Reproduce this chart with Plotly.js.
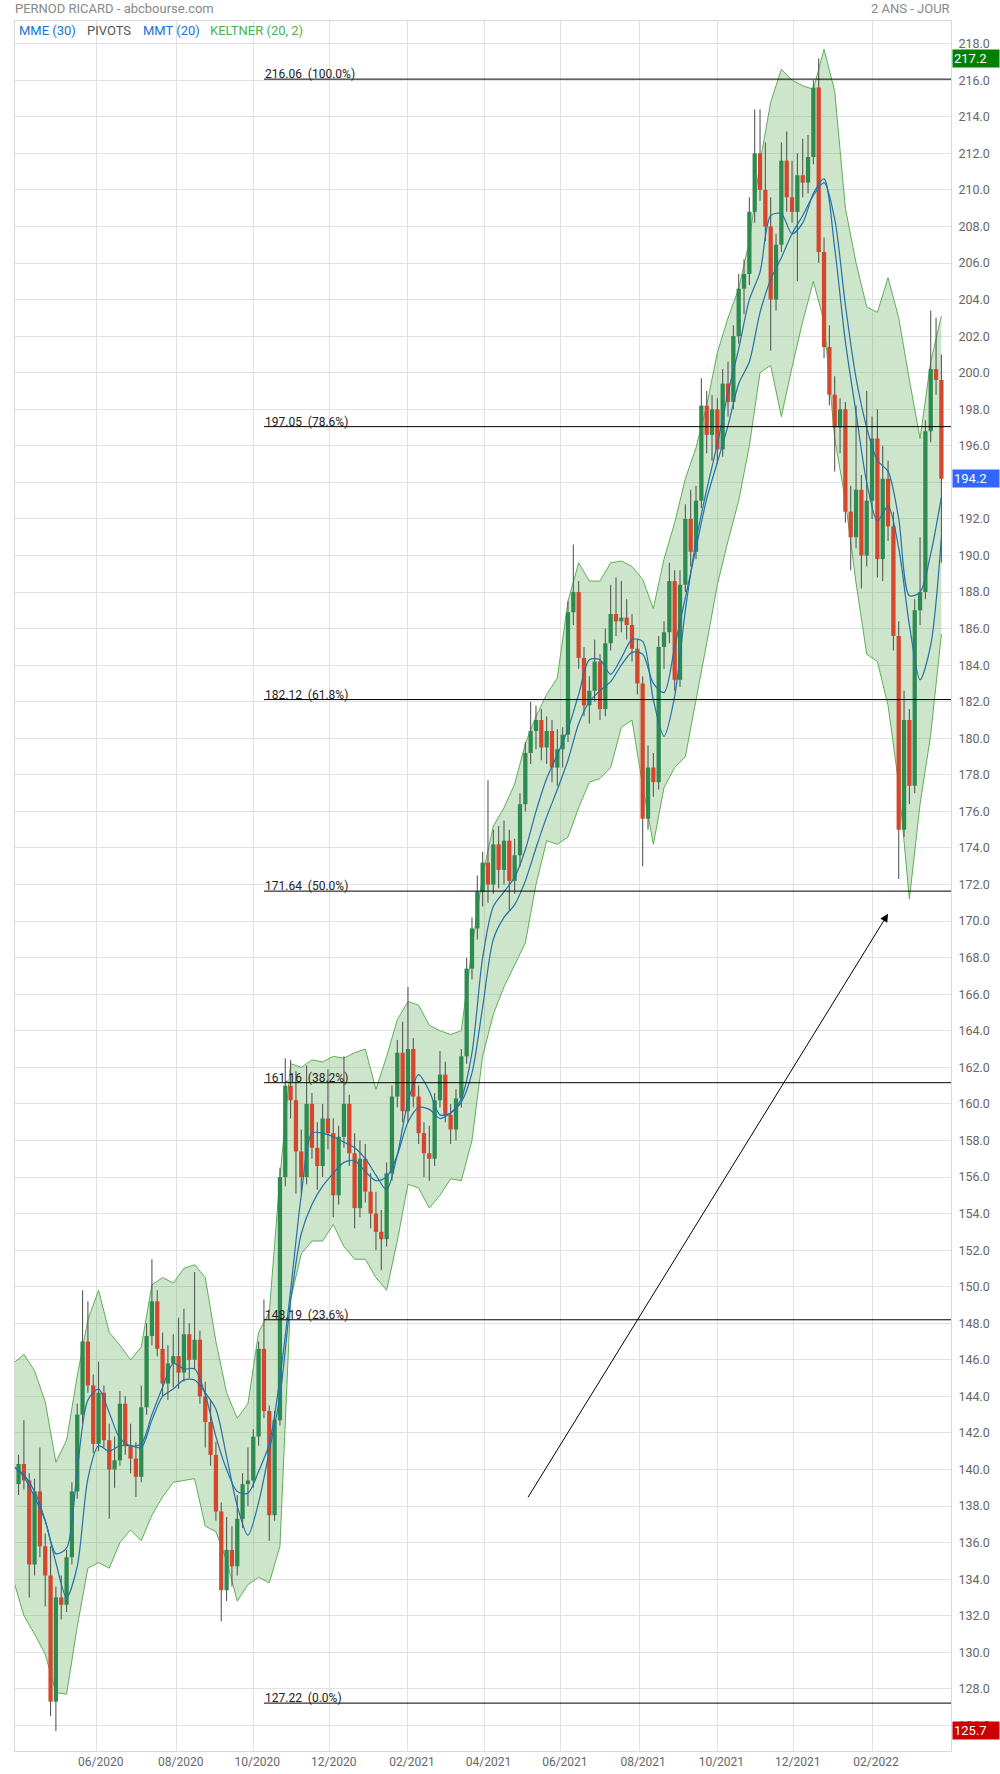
<!DOCTYPE html>
<html><head><meta charset="utf-8">
<script src="https://cdn.plot.ly/plotly-3.0.1.min.js"></script>
<style>html,body{margin:0;padding:0;background:#fff;} #chart{width:1000px;height:1774px;}</style>
</head><body><div id="chart"></div>
<script>
const openP = [
139.2,140.3,139.4,134.8,138.8,135.8,134.2,127.3,133.0,132.6,
135.2,138.8,143.0,147.0,144.6,141.4,144.2,141.6,140.0,140.5,
143.6,141.3,140.6,139.6,143.4,147.3,149.2,146.6,144.7,145.8,
146.2,145.3,147.4,146.0,147.1,144.0,142.6,140.8,137.7,133.4,
135.6,134.7,137.3,139.2,139.4,141.8,146.6,143.2,137.5,142.7,
156.0,161.0,160.2,157.4,156.0,160.0,157.6,156.6,159.2,158.4,
155.0,158.2,160.0,157.3,154.3,157.0,155.2,154.0,153.0,152.6,
156.2,160.4,162.8,159.6,163.0,160.4,158.4,157.3,157.0,160.2,
161.6,159.4,158.6,160.3,162.6,167.4,169.6,171.6,173.2,172.0,
174.2,172.8,174.4,172.2,173.6,176.4,179.2,180.4,181.0,179.5,
180.4,178.4,179.4,180.2,186.9,188.0,184.4,181.8,182.6,184.2,
181.6,185.2,186.8,186.4,186.6,186.2,184.9,183.0,175.6,178.4,
177.6,185.0,185.8,188.6,183.2,188.4,192.0,190.2,193.0,198.2,
196.6,198.0,195.8,199.4,198.4,202.0,204.6,205.4,208.8,212.0,
210.0,208.0,204.0,207.0,211.6,209.6,208.8,210.8,210.4,211.8,
215.6,206.6,201.4,198.8,197.0,198.0,192.4,191.0,193.6,190.0,
193.0,196.4,189.8,194.2,191.6,185.6,175.0,181.0,177.4,187.0,
188.0,196.8,200.2,199.6];
const highP = [
140.8,142.7,139.8,139.5,141.2,136.5,135.8,133.6,134.2,135.6,
139.3,143.6,149.8,149.2,145.2,145.9,144.6,142.5,141.8,144.3,
144.0,142.5,141.5,144.6,148.0,151.5,149.8,147.5,146.8,147.4,
148.3,148.8,148.0,150.8,147.6,144.8,143.8,141.5,138.2,137.4,
136.9,138.6,139.8,141.2,142.2,147.0,149.3,143.5,143.2,156.5,
162.5,162.4,161.8,158.6,162.1,160.6,159.0,160.0,161.9,159.2,
158.8,162.6,160.5,158.4,158.0,157.8,156.2,155.2,154.2,156.8,
161.0,163.5,164.5,166.4,163.6,161.0,159.0,158.8,160.6,162.9,
162.3,160.0,160.8,163.0,168.0,170.2,172.5,173.8,177.7,175.0,
175.2,175.5,175.0,174.5,177.0,179.8,182.0,181.8,181.6,181.2,
181.0,180.5,180.6,187.5,190.6,188.6,185.0,183.4,185.4,184.6,
186.0,188.4,188.8,188.6,187.6,186.8,185.4,183.4,179.6,179.2,
185.6,186.4,189.6,189.2,189.2,192.8,193.6,193.8,199.7,199.0,
198.8,198.6,200.2,200.6,202.6,205.4,206.2,209.6,214.4,214.4,
212.6,209.6,207.6,212.6,213.2,211.6,212.0,212.8,213.0,216.0,
217.2,207.4,202.6,199.8,198.6,198.4,193.8,198.2,194.4,199.0,
197.6,198.0,196.0,195.2,192.4,186.4,182.6,181.6,187.6,191.0,
197.4,203.4,203.0,201.0];
const lowP = [
138.6,138.9,133.0,134.2,135.2,132.5,126.5,125.7,131.8,132.2,
134.8,138.4,142.5,144.2,140.9,141.0,141.2,137.3,139.0,140.2,
140.8,139.8,138.5,139.3,143.0,146.8,146.2,144.0,143.8,144.5,
144.4,144.8,145.0,145.5,143.6,141.2,140.2,137.2,131.7,132.8,
133.6,134.2,136.8,138.0,139.0,141.3,142.8,136.1,137.2,142.4,
155.5,159.2,155.1,155.1,155.6,157.0,155.3,156.0,157.5,153.8,
154.5,157.6,156.6,153.2,153.8,154.6,153.2,152.0,150.9,152.2,
155.8,159.8,159.0,159.0,159.8,157.8,156.0,155.8,156.6,159.8,
159.0,157.8,158.0,159.8,162.2,166.8,169.0,170.8,171.0,171.5,
171.8,172.0,170.6,171.5,173.0,176.0,178.6,179.4,178.8,178.6,
177.6,177.4,178.4,179.8,186.2,183.8,181.2,180.8,182.0,181.0,
181.2,184.8,185.6,185.8,185.4,184.2,182.4,173.0,175.0,176.8,
177.2,183.8,185.2,182.6,182.8,188.0,189.4,189.8,192.6,195.6,
195.2,195.0,195.4,197.6,198.0,201.6,203.2,204.8,208.2,209.4,
207.2,201.2,203.4,206.6,208.8,208.2,205.0,209.6,209.8,211.4,
206.0,200.8,198.2,194.6,195.6,191.8,189.2,190.4,188.2,189.4,
192.0,188.8,188.6,190.8,184.8,172.3,174.6,176.4,177.0,186.2,
187.6,196.2,198.8,189.6];
const closeP = [
140.3,139.4,134.8,138.8,135.8,134.2,127.3,133.0,132.6,135.2,
138.8,143.0,147.0,144.6,141.4,144.2,141.6,140.0,140.5,143.6,
141.3,140.6,139.6,143.4,147.3,149.2,146.6,144.7,145.8,146.2,
145.3,147.4,146.0,147.1,144.0,142.6,140.8,137.7,133.4,135.6,
134.7,137.3,139.2,139.4,141.8,146.6,143.2,137.5,142.7,156.0,
161.0,160.2,157.4,156.0,160.0,157.6,156.6,159.2,158.4,155.0,
158.2,160.0,157.3,154.3,157.0,155.2,154.0,153.0,152.6,156.2,
160.4,162.8,159.6,163.0,160.4,158.4,157.3,157.0,160.2,161.6,
159.4,158.6,160.3,162.6,167.4,169.6,171.6,173.2,172.0,174.2,
172.8,174.4,172.2,173.6,176.4,179.2,180.4,181.0,179.5,180.4,
178.4,179.4,180.2,186.9,188.0,184.4,181.8,182.6,184.2,181.6,
185.2,186.8,186.4,186.6,186.2,184.9,183.0,175.6,178.4,177.6,
185.0,185.8,188.6,183.2,188.4,192.0,190.2,193.0,198.2,196.6,
198.0,195.8,199.4,198.4,202.0,204.6,205.4,208.8,212.0,210.0,
208.0,204.0,207.0,211.6,209.6,208.8,210.8,210.4,211.8,215.6,
206.6,201.4,198.8,197.0,198.0,192.4,191.0,193.6,190.0,193.0,
196.4,189.8,194.2,191.6,185.6,175.0,181.0,177.4,187.0,188.0,
196.8,200.2,199.6,194.2];

// ---- Indicators, sampled every 6 sessions ----
const keltnerUpper = [145.8,
146.3,145.4,143.7,140.4,141.6,145.1,148.2,149.8,147.5,146.8,
146.0,146.7,150.1,150.5,150.2,151.0,151.2,150.5,147.0,144.2,
142.8,143.6,147.5,148.6,156.0,162.2,162.0,162.4,162.3,162.6,
162.5,162.8,163.0,160.8,162.6,164.6,165.6,165.4,164.3,164.0,
163.8,164.0,168.5,172.5,175.2,176.2,177.5,179.7,181.2,182.4,
183.3,187.5,189.6,188.6,188.6,189.6,189.7,189.4,188.7,187.1,
189.8,191.8,194.2,195.9,198.2,201.1,203.0,204.6,207.2,211.5,
214.8,216.6,216.0,215.7,215.5,217.7,215.4,209.0,206.0,203.6,
203.3,205.2,203.0,199.6,196.4,200.6,203.1];
const keltnerLower = [134.0,
132.0,131.0,129.9,127.8,127.7,131.4,134.6,134.9,134.6,136.0,
136.7,136.1,137.5,138.5,139.3,139.4,139.5,136.9,136.6,135.0,
132.8,133.7,134.1,133.8,135.8,149.3,151.8,152.5,152.5,153.4,
152.2,151.5,151.5,150.5,149.8,152.5,155.6,155.4,154.3,155.0,
155.9,155.8,158.0,162.6,164.9,166.4,167.6,168.8,172.0,174.4,
174.2,174.6,176.2,177.6,177.8,178.4,180.6,181.0,177.4,174.2,
177.3,178.4,179.0,182.0,185.2,188.4,190.8,193.0,196.0,200.0,
200.4,197.6,200.3,202.8,205.0,202.8,196.4,193.0,188.5,184.6,
184.2,181.8,177.5,171.2,176.4,180.2,185.7];
const mmt20 = [140.2,
139.6,138.5,137.2,135.4,135.7,140.0,143.8,144.4,143.1,141.7,
141.3,141.4,143.0,144.5,145.8,145.5,145.5,144.1,141.8,140.0,
138.8,138.7,139.9,141.4,145.0,149.8,155.0,158.4,158.4,158.2,
157.9,157.6,157.0,156.1,155.3,157.2,160.1,161.6,160.7,159.4,
159.5,160.3,162.8,168.0,170.8,171.6,172.4,173.9,176.0,177.8,
179.1,180.5,182.4,184.3,184.3,183.5,184.4,185.4,185.3,182.1,
180.1,182.3,187.0,190.8,193.6,196.1,198.9,201.3,204.0,205.5,
208.6,208.7,207.6,208.2,209.8,210.6,206.8,201.7,197.8,194.0,
191.9,192.7,190.4,186.2,183.2,185.1,191.0];
const mme30 = [140.2,
139.7,138.8,137.2,134.9,133.0,134.7,139.5,141.3,141.0,141.3,
141.3,141.2,142.7,144.0,144.4,144.9,144.9,144.2,143.3,140.7,
138.0,136.4,138.2,141.0,144.0,149.2,152.9,154.5,155.5,156.2,
156.8,156.9,156.3,155.8,156.0,157.2,159.0,159.8,159.7,159.2,
159.5,160.1,161.7,165.3,169.0,170.2,170.9,172.2,174.0,175.7,
177.2,178.8,180.8,182.0,182.6,183.1,184.0,184.7,184.6,183.0,
182.5,185.0,187.7,190.4,193.1,195.1,197.1,199.4,200.6,203.3,
205.1,206.3,207.6,208.6,209.7,210.4,208.4,203.7,199.7,197.0,
195.2,194.6,192.0,187.8,188.0,190.1,193.2];

// ---- Fibonacci levels ----
const fibLevels = [216.06,197.05,182.12,171.64,161.16,148.19,127.22];
const fibPct = ['100.0%','78.6%','61.8%','50.0%','38.2%','23.6%','0.0%'];
const fibStartDate = '2020-10-09';

// ---- Axis ticks ----
const tickDates = ['2020-06-01','2020-08-03','2020-10-01','2020-12-01','2021-02-01','2021-04-01','2021-06-01','2021-08-02','2021-10-01','2021-12-01','2022-02-01'];
const tickLabels = ['06/2020','08/2020','10/2020','12/2020','02/2021','04/2021','06/2021','08/2021','10/2021','12/2021','02/2022'];
const priceTicks = [126,128,130,132,134,136,138,140,142,144,146,148,150,152,154,156,158,160,162,164,166,168,170,172,174,176,178,180,182,184,186,188,190,192,194,196,198,200,202,204,206,208,210,212,214,216,218];

// ---- Tags ----
const periodHigh = 217.2, lastPrice = 194.2, periodLow = 125.7;
const arrowFrom = {date:'2021-05-05', value:138.4};
const arrowTo = {date:'2022-02-14', value:170.4};

// session (weekday) index counted from 2020-03-27
const DAY = 86400000;
const BASE = Date.UTC(2020, 2, 27);
function sessionIndex(s){
  const p = s.split('-').map(Number);
  const t = Date.UTC(p[0], p[1]-1, p[2]);
  let n = 0;
  for (let u = BASE + DAY; u <= t; u += DAY){
    const wd = new Date(u).getUTCDay();
    if (wd !== 0 && wd !== 6) n++;
  }
  return n;
}
const firstCandle = sessionIndex('2020-03-31');
const step = 3;
const candleX = closeP.map((_, k) => firstCandle + step*k);
const indX = keltnerUpper.map((_, j) => firstCandle + step*(2*j - 1));
const xRange = [0, sessionIndex('2022-04-04') + 0.4];
const yRange = [124.6, 219.24];

const GREEN = '#2e8b50', RED = '#d4472c';
const bodyColors = closeP.map((c,i) => c >= openP[i] ? GREEN : RED);

const bandLine = {color:'#5fae57', width:1};
const maLine = {color:'#2470a8', width:1.2, shape:'spline', smoothing:0.8};

const traces = [
  {type:'scatter', mode:'lines', x:indX, y:keltnerLower, line:bandLine, hoverinfo:'skip'},
  {type:'scatter', mode:'lines', x:indX, y:keltnerUpper, line:bandLine, fill:'tonexty', fillcolor:'rgba(76,160,70,0.28)', hoverinfo:'skip'},
  {type:'bar', x:candleX, base:lowP, y:highP.map((h,i)=>h-lowP[i]), width:0.6,
   marker:{color:'#555555', line:{width:0}}, xaxis:'x2', yaxis:'y2', hoverinfo:'skip'},
  {type:'bar', x:candleX, base:openP, y:closeP.map((c,i)=>c-openP[i]), width:2.4,
   marker:{color:bodyColors, line:{width:0}}, xaxis:'x2', yaxis:'y2', hoverinfo:'skip'},
  {type:'scatter', mode:'lines', x:indX, y:mme30, line:maLine, xaxis:'x2', yaxis:'y2', hoverinfo:'skip'},
  {type:'scatter', mode:'lines', x:indX, y:mmt20, line:maLine, xaxis:'x2', yaxis:'y2', hoverinfo:'skip'}
];

const fibX0 = sessionIndex(fibStartDate);
const shapes = fibLevels.map(v => ({type:'line', xref:'x', yref:'y', x0:fibX0, x1:xRange[1], y0:v, y1:v,
  line:{color:'#000', width:1}, layer:'above'}));

const annotations = [];
fibLevels.forEach((v,i) => annotations.push({
  xref:'x', yref:'y', x:fibX0, y:v, xanchor:'left', yanchor:'bottom', yshift:-3, showarrow:false,
  text: v.toFixed(2) + '\u00a0\u00a0(' + fibPct[i] + ')', font:{size:12, color:'#222'}, borderpad:0
}));
annotations.push({xref:'paper', yref:'paper', x:0, y:1, xanchor:'left', yanchor:'bottom', yshift:3, xshift:-2,
  showarrow:false, text:'PERNOD RICARD - abcbourse.com', font:{size:13, color:'#888'}});
annotations.push({xref:'paper', yref:'paper', x:1, y:1, xanchor:'right', yanchor:'bottom', yshift:3, xshift:1,
  showarrow:false, text:'2 ANS - JOUR', font:{size:13, color:'#888'}});
const legendItems = [['MME (30)','#1e6fd0',2],['PIVOTS','#555',70],['MMT (20)','#1e6fd0',126],['KELTNER (20, 2)','#4caf50',193]];
legendItems.forEach(it => annotations.push({xref:'paper', yref:'paper', x:0, y:1, xanchor:'left', yanchor:'top',
  xshift:it[2], yshift:0, showarrow:false, text:it[0], font:{size:13, color:it[1]}}));
[[periodHigh,'#008000'],[lastPrice,'#3366ff'],[periodLow,'#cc0000']].forEach(t => annotations.push({
  xref:'paper', yref:'y', x:1, y:t[0], xanchor:'left', yanchor:'middle', xshift:1, showarrow:false,
  text:t[0].toFixed(1), bgcolor:t[1], font:{size:13, color:'#fff'}, width:44, align:'left', borderpad:1
}));
annotations.push({xref:'x', yref:'y', axref:'x', ayref:'y',
  x:sessionIndex(arrowTo.date), y:arrowTo.value, ax:sessionIndex(arrowFrom.date), ay:arrowFrom.value,
  text:'', showarrow:true, arrowhead:2, arrowsize:1.6, arrowwidth:1, arrowcolor:'#000'});

// the last-price tag hides the tick label it sits on, as in the reference
const priceTickText = priceTicks.map(v => Math.abs(v - lastPrice) < 1 ? '' : v.toFixed(1));

const gridC = '#e2e2e2', lineC = '#d8d8d8';
const layout = {
  width:1000, height:1774,
  margin:{l:15, r:49, t:21, b:23},
  paper_bgcolor:'#fff', plot_bgcolor:'#fff',
  showlegend:false, barmode:'overlay', hovermode:false,
  font:{family:'Roboto, sans-serif', size:12, color:'#666'},
  xaxis:{range:xRange, tickmode:'array', tickvals:tickDates.map(sessionIndex), ticktext:tickLabels,
    showgrid:true, gridcolor:gridC, gridwidth:1, zeroline:false, showline:true, mirror:true, linecolor:lineC,
    ticks:'', tickfont:{size:12, color:'#666'}, ticklabelshift:4, fixedrange:true},
  yaxis:{range:yRange, side:'right', tickmode:'array', tickvals:priceTicks, ticktext:priceTickText, showgrid:true, gridcolor:gridC,
    zeroline:false, showline:true, mirror:true, linecolor:lineC, ticks:'', tickfont:{size:12.5, color:'#666'},
    ticklabelstandoff:4, fixedrange:true},
  xaxis2:{overlaying:'x', range:xRange, visible:false, fixedrange:true},
  yaxis2:{overlaying:'y', range:yRange, visible:false, side:'right', fixedrange:true},
  shapes:shapes,
  annotations:annotations
};
Plotly.newPlot('chart', traces, layout, {staticPlot:true, displayModeBar:false});
</script>
</body></html>
